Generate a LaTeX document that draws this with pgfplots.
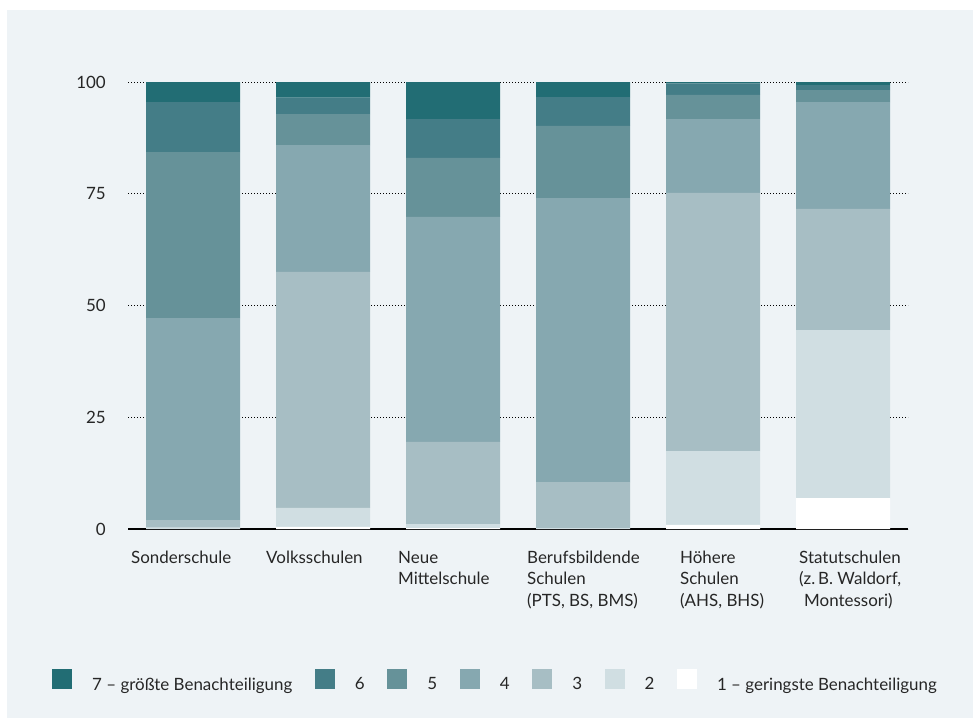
\documentclass[border=0pt]{standalone}
\usepackage{fontspec}
\setmainfont{Lato}
\usepackage{pgfplots}
\usepackage{pgfplotstable}
\pgfplotsset{compat=1.18}
\definecolor{bg}{HTML}{EEF3F6}
\definecolor{c7}{HTML}{226D74}
\definecolor{c6}{HTML}{447D87}
\definecolor{c5}{HTML}{669299}
\definecolor{c4}{HTML}{86A8B0}
\definecolor{c3}{HTML}{A7BEC4}
\definecolor{c2}{HTML}{D0DEE2}
\definecolor{c1}{HTML}{FFFFFF}
\pgfplotstableread{
x  s1   s2   s3   s4   s5   s6   s7
0  0.0  0.3  1.7  45.2 37.1 11.2 4.5
1  0.5  4.2  52.8 28.4 6.9  3.7  3.5
2  0.2  0.9  18.4 50.3 13.2 8.7  8.3
3  0.0  0.2  10.3 63.5 16.2 6.4  3.4
4  0.9  16.5 57.8 16.5 5.4  2.6  0.3
5  6.9  37.6 27.1 23.9 2.7  1.1  0.7
}\data
\newcommand{\lbl}[2]{\hspace*{#1}\begin{tabular}{@{}l@{}}#2\end{tabular}}
\begin{document}
\begin{tikzpicture}
\fill[white] (0bp,0bp) rectangle (973bp,-718bp);
\fill[bg] (7bp,-10bp) rectangle (973bp,-718bp);
\begin{axis}[
  at={(128bp,-529bp)}, anchor=south west,
  scale only axis, width=780bp, height=447bp,
  ybar stacked, bar width=94bp,
  xmin=-0.5, xmax=5.5, ymin=0, ymax=100,
  enlargelimits=false,
  axis x line*=bottom, axis y line*=left,
  x axis line style={-, line width=1.5bp, black},
  y axis line style={draw=none},
  major tick length=0pt,
  ytick={0,25,50,75,100},
  xtick={0,1,2,3,4,5},
  xticklabels={
    {\lbl{-6bp}{Sonderschule}},
    {\lbl{-1bp}{Volksschulen}},
    {\lbl{1bp}{Neue\\Mittelschule}},
    {\lbl{0bp}{Berufsbildende\\Schulen\\(PTS, BS, BMS)}},
    {\lbl{23bp}{Höhere\\Schulen\\(AHS, BHS)}},
    {\lbl{12bp}{Statutschulen\\(z.\,B. Waldorf,\\\hspace*{5bp}Montessori)}}
  },
  /pgf/number format/assume math mode=true,
  every tick label/.append style={font=\fontsize{17}{21.5}\selectfont, text=black!85},
  xticklabel style={anchor=north west, inner sep=0pt, xshift=-56bp, yshift=-19bp},
  yticklabel style={anchor=east, inner sep=0pt, xshift=-22bp},
  ymajorgrids,
  grid style={black, line width=0.9bp, dash pattern=on 0.9bp off 2.1bp},
  legend columns=7,
  reverse legend,
  legend style={
    at={(-0.0974,-0.3378)}, anchor=west,
    draw=none, fill=none, inner sep=0pt,
    font=\fontsize{17}{21.5}\selectfont, text=black!85,
    nodes={inner sep=0pt},
    /tikz/every odd column/.append style={column sep=20bp},
    /tikz/every even column/.append style={column sep=22.6bp},
  },
  legend image code/.code={\fill[#1] (0bp,-4bp) rectangle (20bp,16bp);},
]
\addplot[fill=c1, draw=none] table[x=x, y=s1]{\data};
\addplot[fill=c2, draw=none] table[x=x, y=s2]{\data};
\addplot[fill=c3, draw=none] table[x=x, y=s3]{\data};
\addplot[fill=c4, draw=none] table[x=x, y=s4]{\data};
\addplot[fill=c5, draw=none] table[x=x, y=s5]{\data};
\addplot[fill=c6, draw=none] table[x=x, y=s6]{\data};
\addplot[fill=c7, draw=none] table[x=x, y=s7]{\data};
\legend{1 – geringste Benachteiligung, 2, 3, 4, 5, 6, 7 – größte Benachteiligung}
\end{axis}
\end{tikzpicture}
\end{document}
